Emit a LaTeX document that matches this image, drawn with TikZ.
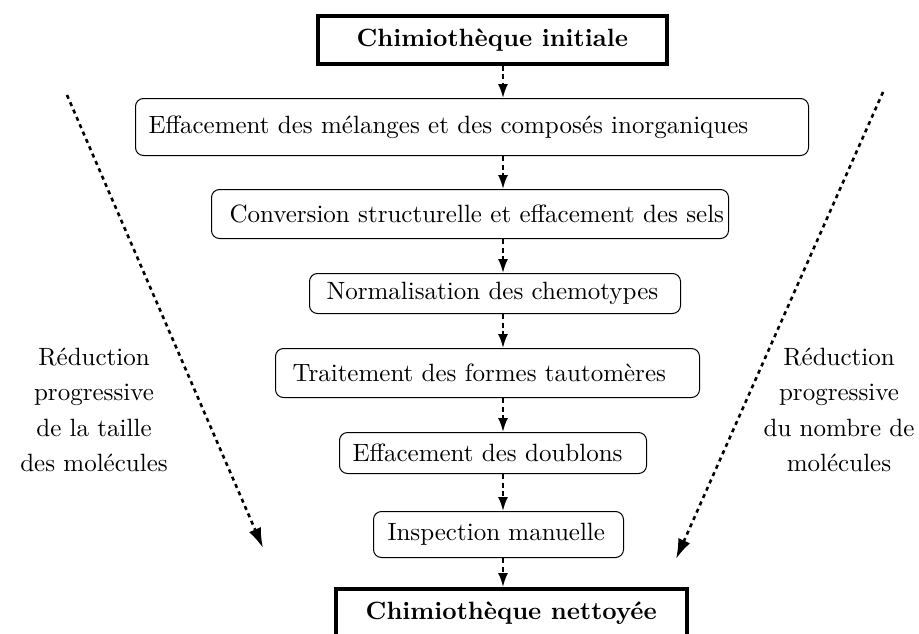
\documentclass[tikz,border=0pt]{standalone}
\usepackage{fontspec}
\usetikzlibrary{arrows.meta,calc}
\begin{document}
\begin{tikzpicture}[x=0.4pt,y=-0.4pt,
  every node/.style={font=\fontsize{10}{14.12}\selectfont},
  stepbox/.style={draw,rounded corners=3.2pt,line width=0.4pt,inner ysep=0pt,align=left,anchor=north west},
  endbox/.style={draw,line width=1.4pt,inner sep=0pt,anchor=north west,font=\fontsize{10}{14}\selectfont\bfseries,align=center},
  flow/.style={line width=0.8pt,dash pattern=on 2pt off 1.4pt,-{Latex[length=5.6pt,width=4pt]}},
  trend/.style={line width=1.04pt,dash pattern=on 1.6pt off 1.6pt,-{Latex[length=8pt,width=5.2pt]}},
  side/.style={align=center,inner sep=0pt,font=\fontsize{10}{14.12}\selectfont}]
\useasboundingbox (0,0) rectangle (919,633);
\clip (0,0) rectangle (919,633);

\node[endbox,minimum width=139.6pt,minimum height=19.2pt] (top) at (316,14) {Chimiothèque initiale};

\node[stepbox,inner xsep=5.2pt,text width=258.8pt,minimum height=22.8pt] (b1) at (135,98)
  {\mbox{Effacement des mélanges et des composés inorganiques}};
\node[stepbox,inner xsep=7.2pt,text width=192.4pt,minimum height=19.6pt] (b2) at (211,189)
  {\mbox{Conversion structurelle et effacement des sels}};
\node[stepbox,inner xsep=6.8pt,text width=134.8pt,minimum height=16pt] (b3) at (309,273)
  {\mbox{Normalisation des chemotypes}};
\node[stepbox,inner xsep=6.8pt,text width=156pt,minimum height=19.6pt] (b4) at (275,348)
  {\mbox{Traitement des formes tautomères}};
\node[stepbox,inner xsep=5.2pt,text width=112.4pt,minimum height=16.4pt] (b5) at (339,432)
  {\mbox{Effacement des doublons}};
\node[stepbox,inner xsep=5.6pt,text width=88.8pt,minimum height=18.4pt] (b6) at (373,511)
  {\mbox{Inspection manuelle}};

\node[endbox,minimum width=140.4pt,minimum height=19.2pt] (bot) at (334,587) {Chimiothèque nettoyée};

\coordinate (ax) at (503,0);
\draw[flow] (top.south -| ax) -- (b1.north -| ax);
\draw[flow] (b1.south -| ax) -- (b2.north -| ax);
\draw[flow] (b2.south -| ax) -- (b3.north -| ax);
\draw[flow] (b3.south -| ax) -- (b4.north -| ax);
\draw[flow] (b4.south -| ax) -- (b5.north -| ax);
\draw[flow] (b5.south -| ax) -- (b6.north -| ax);
\draw[flow] (b6.south -| ax) -- (bot.north -| ax);

\coordinate (ls) at (67,95);
\coordinate (le) at (263,548);
\coordinate (rs) at (883,92);
\coordinate (re) at (676,559);
\draw[trend] (ls) -- (le);
\draw[trend] (rs) -- (re);

\node[side] (lt) at (94,410) {Réduction\\progressive\\de la taille\\des molécules};
\node[side] (rt) at (839,410) {Réduction\\progressive\\du nombre de\\molécules};
\end{tikzpicture}
\end{document}
